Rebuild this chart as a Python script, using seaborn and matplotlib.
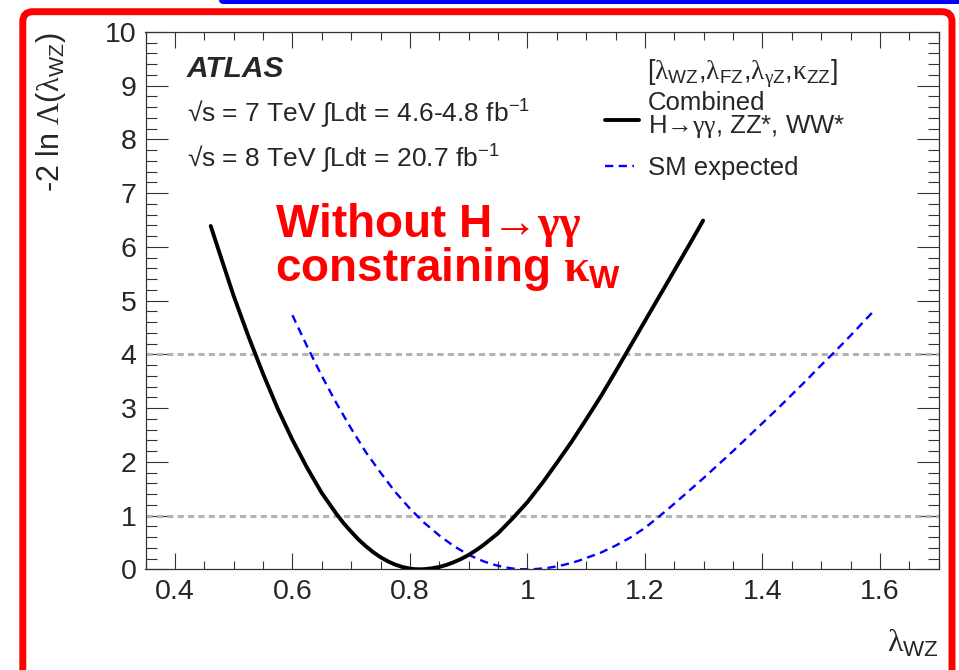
import matplotlib
matplotlib.use("Agg")
import matplotlib.pyplot as plt
import seaborn as sns
import numpy as np
import pandas as pd
from matplotlib.ticker import MultipleLocator, FixedLocator, FixedFormatter
from matplotlib.lines import Line2D
from matplotlib.patches import FancyBboxPatch
from matplotlib.transforms import IdentityTransform

# ---------------- data ----------------
comb_x = [0.461, 0.475, 0.50, 0.525, 0.55, 0.575, 0.60, 0.625, 0.65, 0.675, 0.6875,
          0.70, 0.7125, 0.725, 0.7375, 0.75, 0.7625, 0.775, 0.7875, 0.80, 0.808,
          0.816, 0.825, 0.8375, 0.85, 0.8625, 0.875, 0.8875, 0.90, 0.9125, 0.925,
          0.95, 0.975, 1.00, 1.025, 1.05, 1.075, 1.10, 1.125, 1.15, 1.175, 1.20,
          1.225, 1.25, 1.275, 1.299]
comb_y = [6.39, 5.92, 5.09, 4.34, 3.64, 2.99, 2.41, 1.89, 1.42, 1.03, 0.854,
          0.70, 0.554, 0.43, 0.319, 0.225, 0.148, 0.087, 0.042, 0.013, 0.003,
          0.0, 0.003, 0.018, 0.044, 0.082, 0.134, 0.194, 0.268, 0.354, 0.45,
          0.67, 0.95, 1.25, 1.60, 1.98, 2.37, 2.79, 3.22, 3.68, 4.15, 4.62,
          5.09, 5.56, 6.03, 6.49]

sm_x = [0.60, 0.625, 0.65, 0.675, 0.70, 0.725, 0.75, 0.775, 0.80, 0.825, 0.85,
        0.875, 0.90, 0.9125, 0.925, 0.9375, 0.95, 0.9625, 0.975, 0.9875, 0.998,
        1.0125, 1.025, 1.0375, 1.05, 1.0625, 1.075, 1.0875, 1.10, 1.125, 1.15,
        1.175, 1.20, 1.225, 1.25, 1.275, 1.30, 1.325, 1.35, 1.375, 1.40, 1.425,
        1.45, 1.475, 1.50, 1.525, 1.55, 1.575, 1.587]
sm_y = [4.73, 4.15, 3.60, 3.09, 2.62, 2.18, 1.80, 1.44, 1.13, 0.86, 0.63,
        0.43, 0.27, 0.208, 0.15, 0.104, 0.066, 0.036, 0.015, 0.003, 0.0,
        0.004, 0.015, 0.031, 0.055, 0.084, 0.12, 0.16, 0.21, 0.31, 0.44,
        0.59, 0.77, 0.99, 1.22, 1.46, 1.70, 1.95, 2.20, 2.46, 2.72, 2.98,
        3.25, 3.52, 3.80, 4.07, 4.35, 4.64, 4.78]

ref_levels = [1, 4]
xtick_vals = [0.4, 0.6, 0.8, 1.0, 1.2, 1.4, 1.6]
xtick_labels = ["0.4", "0.6", "0.8", "1", "1.2", "1.4", "1.6"]
ytick_vals = list(range(0, 11))
ytick_labels = [str(v) for v in ytick_vals]

# ---------------- style ----------------
sns.set_style("ticks")
plt.rcParams["font.family"] = ["Liberation Sans", "DejaVu Sans"]
plt.rcParams["mathtext.fontset"] = "custom"
plt.rcParams["mathtext.rm"] = "Liberation Serif"
plt.rcParams["mathtext.sf"] = "Liberation Sans"
plt.rcParams["mathtext.it"] = "Liberation Sans:bold"
plt.rcParams["mathtext.bf"] = "Liberation Serif:bold"

W, H = 959, 670
fig = plt.figure(figsize=(W / 100, H / 100), dpi=100)
fig.patch.set_facecolor("white")

ax_l, ax_r, ax_t, ax_b = 145.5, 938.7, 32.0, 569.3
ax = fig.add_axes([ax_l / W, (H - ax_b) / H, (ax_r - ax_l) / W, (ax_b - ax_t) / H])

def fx(px):
    return px / W

def fy(py):
    return (H - py) / H

# reference lines
for lv in ref_levels:
    ax.axhline(lv, color="#b3b3b3", lw=2.2, linestyle=(0, (2.0, 1.4)), zorder=1)

df_c = pd.DataFrame({"x": comb_x, "y": comb_y})
df_s = pd.DataFrame({"x": sm_x, "y": sm_y})
sns.lineplot(data=df_s, x="x", y="y", ax=ax, color="#0000ff", lw=1.7,
             linestyle=(0, (3.5, 2.3)), sort=False, zorder=2)
sns.lineplot(data=df_c, x="x", y="y", ax=ax, color="black", lw=2.8,
             sort=False, zorder=3)

ax.set_xlim(0.35, 1.70)
ax.set_ylim(0, 10)
ax.set_xlabel("")
ax.set_ylabel("")

ax.xaxis.set_major_locator(FixedLocator(xtick_vals))
ax.xaxis.set_major_formatter(FixedFormatter(xtick_labels))
ax.xaxis.set_minor_locator(MultipleLocator(0.05))
ax.yaxis.set_major_locator(FixedLocator(ytick_vals))
ax.yaxis.set_major_formatter(FixedFormatter(ytick_labels))
ax.yaxis.set_minor_locator(MultipleLocator(0.2))

ax.tick_params(which="both", direction="in", top=True, right=True,
               color="#333333", width=0.8)
ax.tick_params(axis="x", which="major", length=11.5, labelsize=20.5, pad=7)
ax.tick_params(axis="x", which="minor", length=5.8)
ax.tick_params(axis="y", which="major", length=16, labelsize=20.5, pad=6.5)
ax.tick_params(axis="y", which="minor", length=8)
for sp in ax.spines.values():
    sp.set_visible(True)
    sp.set_linewidth(0.9)
    sp.set_color("#333333")

# axis titles
fig.text(fx(51), fy(32), r"-2 ln $\mathrm{\Lambda}$($\mathrm{\lambda}_{\mathsf{WZ}}$)",
         rotation=90, ha="center", va="top", fontsize=22)
fig.text(fx(938.7), fy(628), r"$\mathrm{\lambda}_{\mathsf{WZ}}$",
         ha="right", va="top", fontsize=23)

# ATLAS label
fig.text(fx(187), fy(77), "ATLAS", fontsize=21.5, fontweight="bold",
         fontstyle="italic", ha="left", va="baseline")
fig.text(fx(187), fy(122), "√s = 7 TeV ∫Ldt = 4.6-4.8 fb$^{\\mathsf{-1}}$",
         fontsize=19, ha="left", va="baseline")
fig.text(fx(187), fy(167), "√s = 8 TeV ∫Ldt = 20.7 fb$^{\\mathsf{-1}}$",
         fontsize=19, ha="left", va="baseline")

# red annotation
fig.text(fx(275), fy(237), r"Without H→$\mathbf{\gamma\gamma}$",
         fontsize=33, fontweight="bold", color="#ff0000", ha="left", va="baseline")
fig.text(fx(275), fy(281), r"constraining $\mathbf{\kappa}_{\mathit{W}}$",
         fontsize=33, fontweight="bold", color="#ff0000", ha="left", va="baseline")

# legend
fig.text(fx(647), fy(80),
         r"[$\mathrm{\lambda}_{\mathsf{WZ}}$,$\mathrm{\lambda}_{\mathsf{FZ}}$,"
         r"$\mathrm{\lambda}_{\mathrm{\gamma}\mathsf{Z}}$,$\mathrm{\kappa}_{\mathsf{ZZ}}$]",
         fontsize=19.5, ha="left", va="baseline")
fig.text(fx(648), fy(110), "Combined", fontsize=18.5, ha="left", va="baseline")
fig.text(fx(648), fy(133), r"H→$\mathrm{\gamma\gamma}$, ZZ*, WW*",
         fontsize=18.5, ha="left", va="baseline")
fig.text(fx(648), fy(175), "SM expected", fontsize=18.5, ha="left", va="baseline")
fig.add_artist(Line2D([fx(605), fx(639)], [fy(120), fy(120)], color="black",
                      lw=2.8, transform=fig.transFigure))
fig.add_artist(Line2D([fx(605), fx(634)], [fy(166), fy(166)], color="#0000ff",
                      lw=1.7, linestyle=(0, (3.5, 2.3)), transform=fig.transFigure))

# decorative frame
frame = FancyBboxPatch((22.8, -40), 952 - 22.8, (H - 11.7) + 40,
                       boxstyle="round,pad=0,rounding_size=10",
                       fill=False, edgecolor="#ff0000", lw=5.0,
                       transform=IdentityTransform())
fig.add_artist(frame)
fig.add_artist(Line2D([223, 1100], [H, H], color="#0000ff", lw=5.8,
                      solid_capstyle="round", transform=IdentityTransform()))

fig.savefig("out.png", dpi=100)
